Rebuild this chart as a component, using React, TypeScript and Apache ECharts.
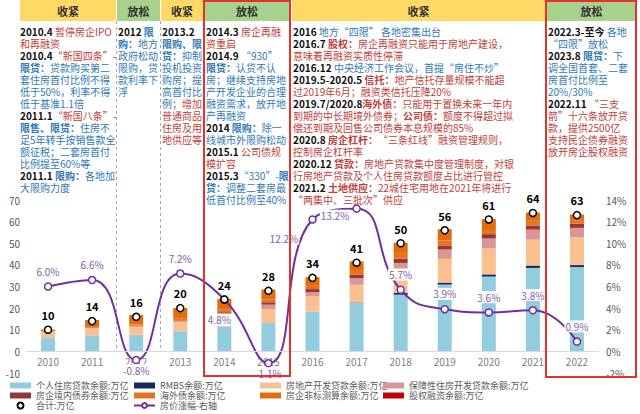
import React, { useEffect, useRef } from "react";
import * as echarts from "echarts";

const years = ["2010", "2011", "2012", "2013", "2014", "2015", "2016", "2017", "2018", "2019", "2020", "2021", "2022"];
const personalLoans = [6.5, 7.4, 7.7, 9.3, 11.5, 13.1, 18.5, 22.4, 26.2, 30.9, 34.6, 38.6, 39.0];
const rmbs = [0, 0, 0, 0, 0, 0, 0, 0.2, 0.8, 0.9, 1.0, 1.1, 0.9];
const devLoans = [2.8, 3.4, 3.9, 4.6, 5.0, 6.5, 6.9, 8.2, 10.8, 11.0, 12.0, 12.0, 13.0];
const affordableLoans = [0, 0, 0, 0, 1.0, 2.0, 2.0, 3.1, 3.1, 4.3, 4.6, 4.6, 4.2];
const domesticBonds = [0.2, 0.2, 0.3, 0.4, 0.6, 1.1, 1.4, 1.5, 2.0, 1.9, 2.0, 1.9, 2.0];
const overseasBonds = [0, 0.3, 0.5, 0.8, 1.2, 1.3, 1.5, 1.8, 2.2, 2.3, 2.4, 2.2, 1.6];
const nonStandard = [0.6, 3.2, 4.4, 5.0, 5.0, 4.6, 4.0, 4.4, 5.1, 5.2, 4.6, 3.8, 2.6];
const equity = [0, 0, 0, 0, 0, 0, 0, 0, 0, 0, 0, 0, 0];
const totals = [10, 14, 16, 20, 24, 28, 34, 41, 50, 56, 61, 64, 63];
const priceGrowth = [6.0, 6.6, -0.8, 7.2, 4.8, -1.1, 12.2, 13.2, 5.7, 3.9, 3.6, 3.8, 0.9];

const FONT = '"Noto Sans CJK SC", "Noto Sans", sans-serif';
const BLUE = "#3079B5";
const RED = "#C0403A";

type Seg = [string, string];
const panel1: Seg[][] = [
  [["d", "2010.4 "], ["r", "暂停房企IPO"]],
  [["r", "和再融资"]],
  [["d", "2010.4"], ["r", "“新国四条”-"]],
  [["bb", "限贷："], ["b", "贷款购买第二"]],
  [["b", "套住房首付比例不得"]],
  [["b", "低于50%，利率不得"]],
  [["b", "低于基准1.1倍"]],
  [["d", "2011.1"], ["r", "“新国八条”-"]],
  [["bb", "限售、限贷："], ["b", "住房不"]],
  [["b", "足5年转手按销售款全"]],
  [["b", "额征税；二套房首付"]],
  [["b", "比例提至60%等"]],
  [["d", "2011.1 "], ["bb", "限购："], ["b", "各地加"]],
  [["b", "大限购力度"]],
];
const panel2: Seg[][] = [
  [["d", "2012 "], ["bb", "限"]],
  [["bb", "购："], ["b", "地方"]],
  [["b", "政府松动"]],
  [["b", "限购，贷"]],
  [["b", "款利率下"]],
  [["b", "浮"]],
];
const panel3: Seg[][] = [
  [["d", "2013.2"]],
  [["bb", "限购、限"]],
  [["bb", "贷："], ["b", "抑制"]],
  [["b", "投机投资"]],
  [["b", "购房；提"]],
  [["b", "高首付比"]],
  [["b", "例；"], ["r", "增加"]],
  [["r", "普通商品"]],
  [["r", "住房及用"]],
  [["r", "地供应等"]],
];
const panel4: Seg[][] = [
  [["d", "2014.3 "], ["r", "房企再融"]],
  [["r", "资重启"]],
  [["d", "2014.9 "], ["b", "“930”"]],
  [["bb", "限贷："], ["b", "认贷不认"]],
  [["b", "房；继续支持房地"]],
  [["b", "产开发企业的合理"]],
  [["b", "融资需求，放开地"]],
  [["b", "产再融资"]],
  [["d", "2014 "], ["bb", "限购："], ["b", "除一"]],
  [["b", "线城市外限购松动"]],
  [["d", "2015.1 "], ["r", "公司债规"]],
  [["r", "模扩容"]],
  [["d", "2015.3"], ["b", "“330”-"], ["bb", "限"]],
  [["bb", "贷："], ["b", "调整二套房最"]],
  [["b", "低首付比例至40%"]],
];
const panel5: Seg[][] = [
  [["d", "2016 "], ["b", "地方“四限” 各地密集出台"]],
  [["d", "2016.7 "], ["rb", "股权："], ["r", "房企再融资只能用于房地产建设，"]],
  [["r", "意味着再融资实质性停滞"]],
  [["d", "2016.12 "], ["b", "中央经济工作会议，首提“房住不炒”"]],
  [["d", "2019.5-2020.5 "], ["rb", "信托："], ["r", "地产信托存量规模不能超"]],
  [["r", "过2019年6月；融资类信托压降20%"]],
  [["d", "2019.7/2020.8"], ["rb", "海外债："], ["r", "只能用于置换未来一年内"]],
  [["r", "到期的中长期境外债券；"], ["rb", "公司债："], ["r", "额度不得超过拟"]],
  [["r", "偿还到期及回售公司债券本息规模的85%"]],
  [["d", "2020.8 "], ["rb", "房企杠杆："], ["r", "“三条红线”融资管理规则，"]],
  [["r", "控制房企杠杆率"]],
  [["d", "2020.12 "], ["rb", "贷款："], ["r", "房地产贷款集中度管理制度，对银"]],
  [["r", "行房地产贷款及个人住房贷款额度占比进行管控"]],
  [["d", "2021.2 "], ["rb", "土地供应："], ["r", "22城住宅用地在2021年将进行"]],
  [["r", "“两集中、三批次”供应"]],
];
const panel6: Seg[][] = [
  [["d", "2022.3-至今 "], ["b", "各地"]],
  [["b", "“四限”放松"]],
  [["d", "2023.8 "], ["bb", "限贷："], ["b", "下"]],
  [["b", "调全国首套、二套"]],
  [["b", "房首付比例至"]],
  [["b", "20%/30%"]],
  [["d", "2022.11 "], ["r", "“三支"]],
  [["r", "箭”十六条放开贷"]],
  [["r", "款，提供2500亿"]],
  [["r", "支持民企债券融资"]],
  [["r", "放开房企股权融资"]],
];

const headers = [
  { label: "收紧", x: 20, w: 96, color: "#FFD966" },
  { label: "放松", x: 117, w: 43, color: "#A9D18E" },
  { label: "收紧", x: 161, w: 42, color: "#FFD966" },
  { label: "放松", x: 205, w: 84, color: "#A9D18E" },
  { label: "收紧", x: 292, w: 253, color: "#FFD966" },
  { label: "放松", x: 547, w: 89, color: "#A9D18E" },
];
const panels = [
  { x: 20, lines: panel1 },
  { x: 118, lines: panel2 },
  { x: 162, lines: panel3 },
  { x: 206, lines: panel4 },
  { x: 293, lines: panel5 },
  { x: 548, lines: panel6 },
];

const RICH: any = {
  d: { fill: "#111", fontWeight: "bold", fontSize: 10, lineHeight: 12, fontFamily: FONT },
  b: { fill: BLUE, fontSize: 10, lineHeight: 12, fontFamily: FONT },
  bb: { fill: BLUE, fontWeight: "bold", fontSize: 10, lineHeight: 12, fontFamily: FONT },
  r: { fill: RED, fontSize: 10, lineHeight: 12, fontFamily: FONT },
  rb: { fill: RED, fontWeight: "bold", fontSize: 10, lineHeight: 12, fontFamily: FONT },
};

const buildRich = (lines: Seg[][]) =>
  lines.map((l) => l.map(([s, t]) => `{${s}|${t}}`).join("")).join("\n");

// label placements for the line (layout only)
const lineLabelPlace: any[] = [
  { position: "top" },
  { position: "top" },
  { position: "bottom", distance: 0 },
  { position: "top" },
  { position: "bottom", distance: 10, offset: [-5, 0] },
  { position: "bottom", distance: 0 },
  { position: "left", offset: [-4, 19] },
  { position: "left", distance: 2, offset: [0, 7] },
  { position: "top" },
  { position: "top" },
  { position: "top" },
  { position: "top" },
  { position: "top" },
];

export default function App() {
  const ref = useRef<HTMLDivElement>(null);
  useEffect(() => {
    if (!ref.current) return;
    const chart = echarts.init(ref.current, null, { renderer: "svg" });

    const barSeries = (name: string, data: number[], color: string) => ({
      name,
      type: "bar",
      stack: "total",
      barWidth: 14,
      yAxisIndex: 0,
      data,
      itemStyle: { color },
    });

    const graphic: any[] = [];
    headers.forEach((h) => {
      graphic.push({
        type: "rect",
        shape: { x: h.x, y: 0, width: h.w, height: 21 },
        style: { fill: h.color },
        z: 1,
      });
      graphic.push({
        type: "text",
        x: h.x + h.w / 2,
        y: 10.5,
        style: {
          text: h.label,
          fill: "#333",
          fontSize: 11,
          fontWeight: "bold",
          fontFamily: FONT,
          align: "center",
          verticalAlign: "middle",
        },
        z: 2,
      });
    });
    panels.forEach((p) => {
      graphic.push({
        type: "text",
        x: p.x,
        y: 25,
        style: {
          text: buildRich(p.lines),
          rich: RICH,
          fontSize: 10,
          lineHeight: 12,
          fontFamily: FONT,
          align: "left",
          verticalAlign: "top",
        },
        z: 2,
      });
    });
    [116.5, 160.5].forEach((x) => {
      graphic.push({
        type: "line",
        shape: { x1: x, y1: 21, x2: x, y2: 352 },
        style: { stroke: "#A6A6A6", lineWidth: 1, lineDash: [3, 3] },
        z: 1,
      });
    });
    graphic.push({
      type: "rect",
      shape: { x: 204, y: 1, width: 86, height: 375 },
      style: { fill: "none", stroke: "#E4312B", lineWidth: 2 },
      z: 20,
    });
    graphic.push({
      type: "rect",
      shape: { x: 546, y: 1, width: 90, height: 376 },
      style: { fill: "none", stroke: "#E4312B", lineWidth: 2 },
      z: 20,
    });

    const legendBase = {
      orient: "vertical",
      top: 381,
      itemWidth: 21,
      itemHeight: 6,
      itemGap: 1,
      padding: 0,
      selectedMode: false,
      textStyle: { fontSize: 9, color: "#595959", fontFamily: FONT },
    };

    const first: any = barSeries("个人住房贷款余额:万亿", personalLoans, "#93CDDD");
    first.markLine = {
      silent: true,
      symbol: "none",
      label: { show: false },
      lineStyle: { color: "#D9D9D9", type: "solid", width: 1 },
      data: [{ yAxis: 0 }],
    };

    const option: any = {
      animation: false,
      backgroundColor: "#fff",
      textStyle: { fontFamily: FONT },
      grid: { left: 26, right: 41, top: 200, bottom: 41, containLabel: false },
      legend: [
        { ...legendBase, left: 10, data: [{ name: "个人住房贷款余额:万亿", icon: "rect" }, { name: "房企境内债券余额:万亿", icon: "rect" }, { name: "合计:万亿" }] },
        { ...legendBase, left: 133, data: [{ name: "RMBS余额:万亿", icon: "rect" }, { name: "海外债余额:万亿", icon: "rect" }, { name: "房价涨幅-右轴" }] },
        { ...legendBase, left: 260, data: [{ name: "房地产开发贷款余额:万亿", icon: "rect" }, { name: "房企非标测算余额:万亿", icon: "rect" }] },
        { ...legendBase, left: 383, data: [{ name: "保障性住房开发贷款余额:万亿", icon: "rect" }, { name: "股权融资余额:万亿", icon: "rect" }] },
      ],
      xAxis: {
        type: "category",
        data: years,
        axisLine: { show: false },
        axisTick: { show: false },
        axisLabel: { show: false },
      },
      yAxis: [
        {
          type: "value",
          min: -10,
          max: 70,
          interval: 10,
          splitLine: { show: false },
          axisLine: { show: false },
          axisTick: { show: false },
          axisLabel: { color: "#595959", fontSize: 10, margin: 6 },
        },
        {
          type: "value",
          min: -2,
          max: 14,
          interval: 2,
          position: "right",
          splitLine: { show: false },
          axisLine: { show: false },
          axisTick: { show: false },
          axisLabel: { color: "#595959", fontSize: 10, margin: 7, formatter: "{value}%" },
        },
      ],
      graphic,
      series: [
        first,
        barSeries("RMBS余额:万亿", rmbs, "#17285E"),
        barSeries("房地产开发贷款余额:万亿", devLoans, "#FAC090"),
        barSeries("保障性住房开发贷款余额:万亿", affordableLoans, "#D99694"),
        barSeries("房企境内债券余额:万亿", domesticBonds, "#953735"),
        barSeries("海外债余额:万亿", overseasBonds, "#E8731F"),
        barSeries("房企非标测算余额:万亿", nonStandard, "#E46C0A"),
        barSeries("股权融资余额:万亿", equity, "#C00000"),
        {
          name: "年份",
          type: "scatter",
          yAxisIndex: 0,
          symbolSize: 0,
          silent: true,
          z: 1,
          itemStyle: { color: "transparent" },
          label: {
            show: true,
            position: "bottom",
            distance: 5,
            color: "#595959",
            fontSize: 10,
            formatter: (p: any) => years[p.dataIndex],
          },
          data: years.map(() => 0),
        },
        {
          name: "房价涨幅-右轴",
          type: "line",
          yAxisIndex: 1,
          smooth: true,
          symbol: "circle",
          symbolSize: 7,
          showAllSymbol: true,
          z: 3,
          lineStyle: { color: "#7030A0", width: 2 },
          itemStyle: { color: "#fff", borderColor: "#7030A0", borderWidth: 1.5 },
          label: {
            show: true,
            color: "#7E63A8",
            fontSize: 10,
            backgroundColor: "#fff",
            padding: [1, 1],
            formatter: (p: any) => Number(p.value).toFixed(1) + "%",
          },
          data: priceGrowth.map((v, i) => ({ value: v, label: lineLabelPlace[i] })),
        },
        {
          name: "合计:万亿",
          type: "scatter",
          yAxisIndex: 0,
          symbol: "circle",
          symbolSize: 7,
          z: 4,
          itemStyle: { color: "#fff", borderColor: "#000", borderWidth: 1.5, opacity: 1 },
          label: {
            show: true,
            position: "top",
            distance: 5,
            color: "#000",
            fontWeight: "bold",
            fontSize: 11,
          },
          data: totals,
        },
      ],
    };
    chart.setOption(option);
    return () => chart.dispose();
  }, []);
  return (
    <div
      ref={ref}
      style={{ position: "fixed", left: 0, top: 0, width: 640, height: 414, background: "#fff" }}
    />
  );
}
